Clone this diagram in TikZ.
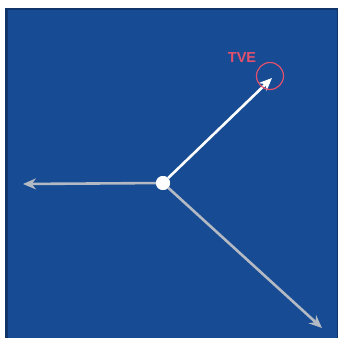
\documentclass[tikz,border=0pt]{standalone}
\usepackage{fontspec}
\setmainfont{Liberation Sans}
\usetikzlibrary{arrows.meta}
\definecolor{bgblue}{HTML}{174B93}
\definecolor{edgeblue}{HTML}{10356A}
\definecolor{armgray}{HTML}{B4BAC4}
\definecolor{tvered}{HTML}{E2506E}
\tikzset{
  arm/.style={line width=2.6pt, -{Stealth[length=13pt,width=11pt]}},
  hub/.style={circle, fill=white, inner sep=0pt, minimum size=14pt},
  lbl/.style={font=\bfseries\fontsize{14.5}{16}\selectfont, text=tvered},
}
\begin{document}
\begin{tikzpicture}[x=1pt,y=1pt]
\useasboundingbox (0,0) rectangle (338,338);
\fill[white] (0,0) rectangle (338,338);
\fill[edgeblue] (5,0) rectangle (338,329.5);
\fill[bgblue] (7.5,0) rectangle (337,327.5);
\node[hub] (c) at (163,155) {};
\coordinate (ur) at (272,260);
\coordinate (l) at (23,154);
\coordinate (dr) at (322,10);
\draw[arm, armgray] (c) -- (l);
\draw[arm, armgray] (c) -- (dr);
\draw[arm, white] (c) -- (ur);
\node[circle, draw=tvered, line width=1.2pt, minimum size=27pt, inner sep=0pt] (ring) at (270,262) {};
\node[lbl] (tve) at (242,280) {TVE};
\node[hub] at (c) {};
\end{tikzpicture}
\end{document}
